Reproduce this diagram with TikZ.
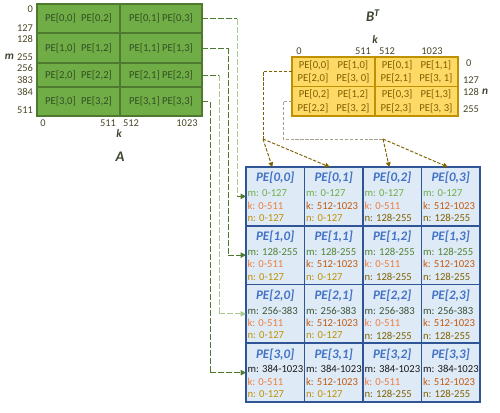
\documentclass[tikz,border=0pt]{standalone}
\usepackage{fontspec}
\setmainfont{Carlito}
\usetikzlibrary{arrows.meta,calc}
\definecolor{Agreen}{HTML}{70AD47}
\definecolor{Adark}{HTML}{4E7A30}
\definecolor{Atext}{HTML}{324F22}
\definecolor{Bgold}{HTML}{FFD966}
\definecolor{Bdark}{HTML}{BF9000}
\definecolor{Btext}{HTML}{7F6000}
\definecolor{PEfill}{HTML}{DEEBF7}
\definecolor{PEborder}{HTML}{2F5597}
\definecolor{PEtitle}{HTML}{4472C4}
\definecolor{labc}{HTML}{3E4630}
\definecolor{numc}{HTML}{4A4526}
\definecolor{mA}{HTML}{70AD47}
\definecolor{mB}{HTML}{548235}
\definecolor{mC}{HTML}{3B5538}
\definecolor{mD}{HTML}{1A1A1A}
\definecolor{kL}{HTML}{F07D3A}
\definecolor{kR}{HTML}{C55A11}
\definecolor{nL}{HTML}{C09000}
\definecolor{nR}{HTML}{7F6000}
\definecolor{gdark}{HTML}{4E7A30}
\definecolor{glight}{HTML}{A9C98E}
\definecolor{bbrown}{HTML}{7F6000}
\definecolor{bgray}{HTML}{A89F88}
\newcommand\pecell[8]{%
  \pgfmathsetmacro\pcx{246+58.5*#2}%
  \pgfmathsetmacro\pcy{167+58.75*#1}%
  \node[pebox] (pe#1#2) at (\pcx,\pcy) {};
  \node[petitle] (pet#1#2) at ($(pe#1#2.north)+(0,11)$) {PE[#1,#2]};
  \node[peline,text=#4] (pem#1#2) at ($(pe#1#2.north west)+(1.5,26)$) {m: #3};
  \node[peline,text=#6] (pek#1#2) at ($(pe#1#2.north west)+(1.5,38.5)$) {k: #5};
  \node[peline,text=#8] (pen#1#2) at ($(pe#1#2.north west)+(1.5,51)$) {n: #7};
}
\begin{document}
\begin{tikzpicture}[x=0.75pt,y=-0.75pt,
  every node/.style={inner sep=0pt,outer sep=0pt},
  acell/.style={draw=Adark,line width=1.3pt,fill=Agreen,anchor=north west,
    text=Atext,font=\fontsize{8pt}{9pt}\selectfont},
  bcell/.style={draw=Bdark,line width=1.1pt,fill=Bgold,anchor=north west,
    minimum height=29.5*0.75pt,text=Btext,align=center,
    font=\fontsize{8pt}{10pt}\selectfont},
  pebox/.style={draw=PEborder,line width=1.3pt,fill=PEfill,anchor=north west,
    minimum width=58.5*0.75pt,minimum height=58.75*0.75pt},
  petitle/.style={text=PEtitle,font=\fontsize{9.8pt}{11pt}\selectfont\bfseries\itshape},
  peline/.style={anchor=west,font=\fontsize{8pt}{9pt}\selectfont},
  num/.style={text=numc,font=\fontsize{7.8pt}{9pt}\selectfont},
  axlab/.style={text=labc,font=\fontsize{8.5pt}{10pt}\selectfont\bfseries\itshape},
  biglab/.style={text=labc,font=\fontsize{11pt}{12pt}\selectfont\bfseries\itshape},
  gline/.style={line width=0.75pt,dash pattern=on 4.5pt off 1.5pt},
  bline/.style={line width=0.7pt,dash pattern=on 2.5pt off 1.2pt},
  gtip/.style={-{Triangle[length=4pt,width=4pt]}},
  btip/.style={-{Triangle[length=3.5pt,width=3.5pt]}}
]
\useasboundingbox (0,0) rectangle (500,412);

% ---------- matrix A ----------
\node[acell,minimum width=83*0.75pt,minimum height=29*0.75pt] (aL0) at (37,4) {PE[0,0]\hspace{4pt}PE[0,2]};
\node[acell,minimum width=82*0.75pt,minimum height=29*0.75pt] (aR0) at (120,4) {PE[0,1] PE[0,3]};
\node[acell,minimum width=83*0.75pt,minimum height=30*0.75pt] (aL1) at (37,33) {PE[1,0]\hspace{4pt}PE[1,2]};
\node[acell,minimum width=82*0.75pt,minimum height=30*0.75pt] (aR1) at (120,33) {PE[1,1] PE[1,3]};
\node[acell,minimum width=83*0.75pt,minimum height=24*0.75pt] (aL2) at (37,63) {PE[2,0]\hspace{4pt}PE[2,2]};
\node[acell,minimum width=82*0.75pt,minimum height=24*0.75pt] (aR2) at (120,63) {PE[2,1] PE[2,3]};
\node[acell,minimum width=83*0.75pt,minimum height=29*0.75pt] (aL3) at (37,87) {PE[3,0]\hspace{4pt}PE[3,2]};
\node[acell,minimum width=82*0.75pt,minimum height=29*0.75pt] (aR3) at (120,87) {PE[3,1] PE[3,3]};

\node[num,anchor=east] (am0) at (33,9) {0};
\node[num,anchor=east] (am1) at (33,28.5) {127};
\node[num,anchor=east] (am2) at (33,38.5) {128};
\node[num,anchor=east] (am3) at (33,57) {255};
\node[num,anchor=east] (am4) at (33,68.5) {256};
\node[num,anchor=east] (am5) at (33,80) {383};
\node[num,anchor=east] (am6) at (33,92) {384};
\node[num,anchor=east] (am7) at (33,110) {511};
\node[axlab] (amlab) at (9.5,57) {m};
\node[num] (ak0) at (43,123) {0};
\node[num] (ak1) at (108,123) {511};
\node[num] (ak2) at (131,123) {512};
\node[num] (ak3) at (187,123) {1023};
\node[axlab] (aklab) at (119,134) {k};
\node[biglab] (Alab) at (120,157) {A};

% ---------- matrix B^T ----------
\node[bcell,minimum width=83*0.75pt] (bL0) at (292,57) {PE[0,0]\hspace{6pt}PE[1,0]\\PE[2,0]\hspace{6pt}PE[3, 0]};
\node[bcell,minimum width=83*0.75pt] (bR0) at (375,57) {PE[0,1]\hspace{6pt}PE[1,1]\\PE[2,1]\hspace{6pt}PE[3, 1]};
\node[bcell,minimum width=83*0.75pt] (bL1) at (292,86.5) {PE[0,2]\hspace{6pt}PE[1,2]\\PE[2,2]\hspace{6pt}PE[3, 2]};
\node[bcell,minimum width=83*0.75pt] (bR1) at (375,86.5) {PE[0,3]\hspace{6pt}PE[1,3]\\PE[2,3]\hspace{6pt}PE[3, 3]};

\node[biglab] (Blab) at (373,16) {B\textsuperscript{T}};
\node[axlab] (bklab) at (375,40) {k};
\node[num] (bk0) at (299,51) {0};
\node[num] (bk1) at (363,51) {511};
\node[num] (bk2) at (387,51) {512};
\node[num] (bk3) at (432,51) {1023};
\node[num,anchor=west] (bn0) at (466,63) {0};
\node[num,anchor=west] (bn1) at (463,80) {127};
\node[num,anchor=west] (bn2) at (463,91.5) {128};
\node[num,anchor=west] (bn3) at (463,109) {255};
\node[axlab] (bnlab) at (485,91.5) {n};

% ---------- PE grid ----------
\pecell{0}{0}{0-127}{mA}{0-511}{kL}{0-127}{nL}
\pecell{0}{1}{0-127}{mA}{512-1023}{kR}{0-127}{nL}
\pecell{0}{2}{0-127}{mA}{0-511}{kL}{128-255}{nR}
\pecell{0}{3}{0-127}{mA}{512-1023}{kR}{128-255}{nR}
\pecell{1}{0}{128-255}{mB}{0-511}{kL}{0-127}{nL}
\pecell{1}{1}{128-255}{mB}{512-1023}{kR}{0-127}{nL}
\pecell{1}{2}{128-255}{mB}{0-511}{kL}{128-255}{nR}
\pecell{1}{3}{128-255}{mB}{512-1023}{kR}{128-255}{nR}
\pecell{2}{0}{256-383}{mC}{0-511}{kL}{0-127}{nL}
\pecell{2}{1}{256-383}{mC}{512-1023}{kR}{0-127}{nL}
\pecell{2}{2}{256-383}{mC}{0-511}{kL}{128-255}{nR}
\pecell{2}{3}{256-383}{mC}{512-1023}{kR}{128-255}{nR}
\pecell{3}{0}{384-1023}{mD}{0-511}{kL}{0-127}{nL}
\pecell{3}{1}{384-1023}{mD}{512-1023}{kR}{0-127}{nL}
\pecell{3}{2}{384-1023}{mD}{0-511}{kL}{128-255}{nR}
\pecell{3}{3}{384-1023}{mD}{512-1023}{kR}{128-255}{nR}
\draw[PEborder,line width=1.6pt] (pe00.north west) rectangle (pe33.south east);

% ---------- connectors from A ----------
\draw[gline,gdark] (aR0.east) -- ++(35,0) coordinate (g0);
\draw[gline,glight] (g0) -- (g0 |- pe00.west) coordinate (g0b);
\draw[gline,gdark,gtip] (g0b) -- (pe00.west);
\draw[gline,gdark] (aR1.east) -- ++(26,0) coordinate (g1);
\draw[gline,gdark] (g1) -- (g1 |- pe10.west) coordinate (g1b);
\draw[gline,gdark,gtip] (g1b) -- (pe10.west);
\draw[gline,gdark] (aR2.east) -- ++(17,0) coordinate (g2);
\draw[gline,glight] (g2) -- (g2 |- pe20.west) coordinate (g2b);
\draw[gline,glight,gtip] (g2b) -- (pe20.west);
\draw[gline,gdark] (aR3.east) -- ++(8,0) coordinate (g3);
\draw[gline,gdark] (g3) -- (g3 |- pe30.west) coordinate (g3b);
\draw[gline,gdark,gtip] (g3b) -- (pe30.west);

% ---------- connectors from B ----------
\coordinate (bh) at (0,139);
\draw[bline,bbrown] (bL0.west) -- ++(-29,0) coordinate (b0) -- (b0 |- bh) coordinate (b0b);
\draw[bline,bbrown,btip] (b0b) -- ($(pe00.north)+(-3,0)$);
\draw[bline,bbrown,btip] (b0b) -- ($(pe01.north)+(-4,0)$);
\draw[bline,bgray] (bL1.west) -- ++(-9,0) coordinate (b1) -- (b1 |- bh) coordinate (b1b) -- ++(100,0) coordinate (b1c);
\draw[bline,bbrown,btip] (b1c) -- ($(pe02.north)+(-3,0)$);
\draw[bline,bbrown,btip] (b1c) -- ($(pe03.north)+(-3,0)$);
\end{tikzpicture}
\end{document}
